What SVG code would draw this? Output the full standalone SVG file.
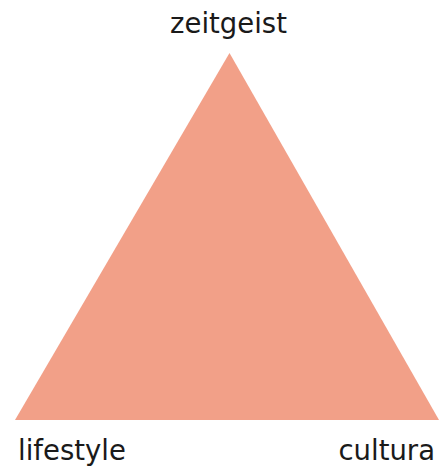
<svg xmlns="http://www.w3.org/2000/svg" width="439" height="466" viewBox="0 0 439 466">
<style>
.lbl{font-family:"DejaVu Sans",sans-serif;font-size:27.5px;fill:#1a1a1a}
</style>
<rect width="439" height="466" fill="#ffffff"/>
<g id="triangle">
<polygon points="229.5,53 15,420 439,420" fill="#F2A088"/>
</g>
<g id="connectors"></g>
<g id="zeitgeist"><text class="lbl" x="228.5" y="33" text-anchor="middle">zeitgeist</text></g>
<g id="lifestyle"><text class="lbl" x="18" y="460">lifestyle</text></g>
<g id="cultura"><text class="lbl" x="435" y="460" text-anchor="end">cultura</text></g>
</svg>
